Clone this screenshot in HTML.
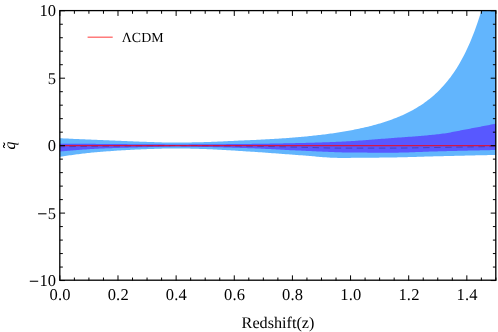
<!DOCTYPE html>
<html><head><meta charset="utf-8"><title>plot</title>
<style>
html,body{margin:0;padding:0;background:#fff;}
body{width:498px;height:332px;overflow:hidden;}
svg{display:block;will-change:transform;}
text{text-rendering:geometricPrecision;font-family:"Liberation Serif",serif;font-size:16.5px;fill:#000;}
</style></head><body>
<svg width="498" height="332" viewBox="0 0 498 332">
<rect width="498" height="332" fill="#fff"/>
<defs><clipPath id="c"><rect x="59.85" y="10.75" width="436.04999999999995" height="269.8"/></clipPath></defs>
<g clip-path="url(#c)">
<path d="M59.0,138.20 L60.5,138.27 L62.0,138.34 L63.5,138.41 L65.0,138.48 L66.5,138.54 L68.0,138.61 L69.5,138.68 L71.0,138.75 L72.5,138.82 L74.0,138.88 L75.5,138.95 L77.0,139.02 L78.5,139.08 L80.0,139.15 L81.5,139.21 L83.0,139.28 L84.5,139.34 L86.0,139.41 L87.5,139.47 L89.0,139.54 L90.5,139.60 L92.0,139.66 L93.5,139.73 L95.0,139.79 L96.5,139.85 L98.0,139.92 L99.5,139.98 L101.0,140.04 L102.5,140.10 L104.0,140.16 L105.5,140.22 L107.0,140.28 L108.5,140.34 L110.0,140.40 L111.5,140.46 L113.0,140.52 L114.5,140.58 L116.0,140.64 L117.5,140.70 L119.0,140.76 L120.5,140.82 L122.0,140.88 L123.5,140.94 L125.0,141.01 L126.5,141.07 L128.0,141.14 L129.5,141.20 L131.0,141.27 L132.5,141.33 L134.0,141.40 L135.5,141.46 L137.0,141.52 L138.5,141.58 L140.0,141.65 L141.5,141.70 L143.0,141.76 L144.5,141.82 L146.0,141.87 L147.5,141.92 L149.0,141.97 L150.5,142.02 L152.0,142.06 L153.5,142.11 L155.0,142.16 L156.5,142.21 L158.0,142.26 L159.5,142.30 L161.0,142.35 L162.5,142.39 L164.0,142.43 L165.5,142.47 L167.0,142.51 L168.5,142.54 L170.0,142.56 L171.5,142.58 L173.0,142.59 L174.5,142.60 L176.0,142.60 L177.5,142.59 L179.0,142.58 L180.5,142.57 L182.0,142.55 L183.5,142.53 L185.0,142.51 L186.5,142.49 L188.0,142.46 L189.5,142.43 L191.0,142.40 L192.5,142.37 L194.0,142.33 L195.5,142.30 L197.0,142.27 L198.5,142.23 L200.0,142.20 L201.5,142.17 L203.0,142.13 L204.5,142.09 L206.0,142.04 L207.5,141.99 L209.0,141.94 L210.5,141.89 L212.0,141.83 L213.5,141.77 L215.0,141.71 L216.5,141.65 L218.0,141.59 L219.5,141.52 L221.0,141.46 L222.5,141.39 L224.0,141.32 L225.5,141.25 L227.0,141.18 L228.5,141.11 L230.0,141.03 L231.5,140.96 L233.0,140.89 L234.5,140.81 L236.0,140.74 L237.5,140.67 L239.0,140.60 L240.5,140.53 L242.0,140.46 L243.5,140.39 L245.0,140.32 L246.5,140.26 L248.0,140.19 L249.5,140.13 L251.0,140.07 L252.5,140.01 L254.0,139.94 L255.5,139.88 L257.0,139.81 L258.5,139.74 L260.0,139.67 L261.5,139.60 L263.0,139.52 L264.5,139.45 L266.0,139.37 L267.5,139.29 L269.0,139.21 L270.5,139.12 L272.0,139.04 L273.5,138.95 L275.0,138.86 L276.5,138.77 L278.0,138.67 L279.5,138.57 L281.0,138.47 L282.5,138.37 L284.0,138.27 L285.5,138.16 L287.0,138.05 L288.5,137.94 L290.0,137.83 L291.5,137.71 L293.0,137.59 L294.5,137.47 L296.0,137.35 L297.5,137.22 L299.0,137.09 L300.5,136.95 L302.0,136.82 L303.5,136.68 L305.0,136.54 L306.5,136.39 L308.0,136.24 L309.5,136.09 L311.0,135.94 L312.5,135.78 L314.0,135.62 L315.5,135.45 L317.0,135.28 L318.5,135.11 L320.0,134.94 L321.5,134.76 L323.0,134.57 L324.5,134.38 L326.0,134.19 L327.5,134.00 L329.0,133.79 L330.5,133.59 L332.0,133.38 L333.5,133.17 L335.0,132.95 L336.5,132.72 L338.0,132.50 L339.5,132.26 L341.0,132.02 L342.5,131.78 L344.0,131.53 L345.5,131.27 L347.0,131.01 L348.5,130.74 L350.0,130.47 L351.5,130.19 L353.0,129.91 L354.5,129.61 L356.0,129.31 L357.5,129.01 L359.0,128.69 L360.5,128.37 L362.0,128.04 L363.5,127.71 L365.0,127.36 L366.5,127.01 L368.0,126.65 L369.5,126.28 L371.0,125.90 L372.5,125.51 L374.0,125.11 L375.5,124.70 L377.0,124.28 L378.5,123.85 L380.0,123.41 L381.5,122.96 L383.0,122.49 L384.5,122.02 L386.0,121.53 L387.5,121.02 L389.0,120.51 L390.5,119.98 L392.0,119.43 L393.5,118.87 L395.0,118.29 L396.5,117.70 L398.0,117.09 L399.5,116.47 L401.0,115.82 L402.5,115.16 L404.0,114.47 L405.5,113.77 L407.0,113.04 L408.5,112.30 L410.0,111.53 L411.5,110.73 L413.0,109.91 L414.5,109.07 L416.0,108.20 L417.5,107.30 L419.0,106.37 L420.5,105.41 L422.0,104.41 L423.5,103.39 L425.0,102.33 L426.5,101.23 L428.0,100.10 L429.5,98.93 L431.0,97.71 L432.5,96.45 L434.0,95.15 L435.5,93.80 L437.0,92.40 L438.5,90.95 L440.0,89.44 L441.5,87.87 L443.0,86.25 L444.5,84.56 L446.0,82.81 L447.5,80.99 L449.0,79.10 L450.5,77.13 L452.0,75.08 L453.5,72.94 L455.0,70.72 L456.5,68.40 L458.0,65.99 L459.5,63.47 L461.0,60.84 L462.5,58.10 L464.0,55.23 L465.5,52.24 L467.0,49.12 L468.5,45.85 L470.0,42.43 L471.5,38.85 L473.0,35.10 L474.5,31.18 L476.0,27.06 L477.5,22.75 L479.0,18.22 L480.5,13.47 L482.0,8.48 L483.5,3.24 L485.0,-2.27 L497.0,-2.27 L497.0,154.90 L497.0,154.90 L495.5,154.93 L494.0,154.96 L492.5,155.00 L491.0,155.03 L489.5,155.06 L488.0,155.09 L486.5,155.13 L485.0,155.16 L483.5,155.19 L482.0,155.22 L480.5,155.26 L479.0,155.29 L477.5,155.32 L476.0,155.36 L474.5,155.39 L473.0,155.42 L471.5,155.46 L470.0,155.49 L468.5,155.53 L467.0,155.56 L465.5,155.60 L464.0,155.63 L462.5,155.67 L461.0,155.70 L459.5,155.73 L458.0,155.77 L456.5,155.81 L455.0,155.84 L453.5,155.88 L452.0,155.91 L450.5,155.95 L449.0,155.98 L447.5,156.02 L446.0,156.05 L444.5,156.09 L443.0,156.13 L441.5,156.16 L440.0,156.20 L438.5,156.24 L437.0,156.28 L435.5,156.32 L434.0,156.36 L432.5,156.40 L431.0,156.44 L429.5,156.49 L428.0,156.53 L426.5,156.58 L425.0,156.62 L423.5,156.67 L422.0,156.71 L420.5,156.76 L419.0,156.80 L417.5,156.85 L416.0,156.90 L414.5,156.94 L413.0,156.98 L411.5,157.03 L410.0,157.07 L408.5,157.11 L407.0,157.15 L405.5,157.19 L404.0,157.23 L402.5,157.27 L401.0,157.30 L399.5,157.34 L398.0,157.37 L396.5,157.40 L395.0,157.42 L393.5,157.45 L392.0,157.47 L390.5,157.49 L389.0,157.51 L387.5,157.53 L386.0,157.55 L384.5,157.57 L383.0,157.58 L381.5,157.60 L380.0,157.62 L378.5,157.64 L377.0,157.65 L375.5,157.67 L374.0,157.69 L372.5,157.70 L371.0,157.72 L369.5,157.73 L368.0,157.75 L366.5,157.76 L365.0,157.78 L363.5,157.79 L362.0,157.80 L360.5,157.81 L359.0,157.83 L357.5,157.84 L356.0,157.85 L354.5,157.86 L353.0,157.86 L351.5,157.87 L350.0,157.88 L348.5,157.88 L347.0,157.89 L345.5,157.89 L344.0,157.90 L342.5,157.90 L341.0,157.90 L339.5,157.90 L338.0,157.89 L336.5,157.86 L335.0,157.82 L333.5,157.77 L332.0,157.71 L330.5,157.64 L329.0,157.55 L327.5,157.46 L326.0,157.36 L324.5,157.25 L323.0,157.14 L321.5,157.02 L320.0,156.90 L318.5,156.77 L317.0,156.64 L315.5,156.51 L314.0,156.37 L312.5,156.24 L311.0,156.10 L309.5,155.97 L308.0,155.84 L306.5,155.71 L305.0,155.58 L303.5,155.46 L302.0,155.35 L300.5,155.24 L299.0,155.13 L297.5,155.02 L296.0,154.92 L294.5,154.81 L293.0,154.70 L291.5,154.59 L290.0,154.48 L288.5,154.37 L287.0,154.26 L285.5,154.14 L284.0,154.03 L282.5,153.92 L281.0,153.80 L279.5,153.69 L278.0,153.58 L276.5,153.46 L275.0,153.35 L273.5,153.24 L272.0,153.13 L270.5,153.01 L269.0,152.90 L267.5,152.79 L266.0,152.68 L264.5,152.58 L263.0,152.47 L261.5,152.36 L260.0,152.26 L258.5,152.15 L257.0,152.05 L255.5,151.95 L254.0,151.85 L252.5,151.76 L251.0,151.66 L249.5,151.57 L248.0,151.48 L246.5,151.38 L245.0,151.29 L243.5,151.19 L242.0,151.10 L240.5,151.00 L239.0,150.90 L237.5,150.81 L236.0,150.71 L234.5,150.62 L233.0,150.52 L231.5,150.43 L230.0,150.34 L228.5,150.25 L227.0,150.16 L225.5,150.07 L224.0,149.98 L222.5,149.89 L221.0,149.81 L219.5,149.73 L218.0,149.65 L216.5,149.57 L215.0,149.49 L213.5,149.42 L212.0,149.35 L210.5,149.28 L209.0,149.22 L207.5,149.16 L206.0,149.10 L204.5,149.04 L203.0,148.99 L201.5,148.94 L200.0,148.90 L198.5,148.86 L197.0,148.82 L195.5,148.77 L194.0,148.73 L192.5,148.69 L191.0,148.65 L189.5,148.61 L188.0,148.57 L186.5,148.54 L185.0,148.51 L183.5,148.48 L182.0,148.46 L180.5,148.44 L179.0,148.42 L177.5,148.41 L176.0,148.40 L174.5,148.40 L173.0,148.41 L171.5,148.42 L170.0,148.44 L168.5,148.46 L167.0,148.49 L165.5,148.52 L164.0,148.56 L162.5,148.60 L161.0,148.64 L159.5,148.69 L158.0,148.73 L156.5,148.78 L155.0,148.83 L153.5,148.88 L152.0,148.93 L150.5,148.98 L149.0,149.03 L147.5,149.08 L146.0,149.14 L144.5,149.20 L143.0,149.26 L141.5,149.32 L140.0,149.38 L138.5,149.45 L137.0,149.52 L135.5,149.59 L134.0,149.66 L132.5,149.74 L131.0,149.82 L129.5,149.90 L128.0,149.98 L126.5,150.07 L125.0,150.16 L123.5,150.25 L122.0,150.34 L120.5,150.43 L119.0,150.53 L117.5,150.62 L116.0,150.72 L114.5,150.83 L113.0,150.93 L111.5,151.03 L110.0,151.14 L108.5,151.25 L107.0,151.36 L105.5,151.47 L104.0,151.59 L102.5,151.70 L101.0,151.82 L99.5,151.94 L98.0,152.06 L96.5,152.19 L95.0,152.33 L93.5,152.47 L92.0,152.62 L90.5,152.77 L89.0,152.93 L87.5,153.09 L86.0,153.26 L84.5,153.43 L83.0,153.61 L81.5,153.79 L80.0,153.97 L78.5,154.16 L77.0,154.35 L75.5,154.55 L74.0,154.75 L72.5,154.95 L71.0,155.16 L69.5,155.37 L68.0,155.58 L66.5,155.79 L65.0,156.01 L63.5,156.23 L62.0,156.45 L60.5,156.67 L59.0,156.90Z" fill="#62b5fd"/>
<path d="M59.0,143.70 L60.5,143.71 L62.0,143.71 L63.5,143.72 L65.0,143.72 L66.5,143.73 L68.0,143.73 L69.5,143.74 L71.0,143.75 L72.5,143.75 L74.0,143.76 L75.5,143.77 L77.0,143.77 L78.5,143.78 L80.0,143.79 L81.5,143.80 L83.0,143.80 L84.5,143.81 L86.0,143.82 L87.5,143.83 L89.0,143.84 L90.5,143.84 L92.0,143.85 L93.5,143.86 L95.0,143.87 L96.5,143.88 L98.0,143.89 L99.5,143.90 L101.0,143.91 L102.5,143.92 L104.0,143.93 L105.5,143.94 L107.0,143.95 L108.5,143.96 L110.0,143.97 L111.5,143.98 L113.0,144.00 L114.5,144.01 L116.0,144.02 L117.5,144.04 L119.0,144.05 L120.5,144.06 L122.0,144.08 L123.5,144.09 L125.0,144.11 L126.5,144.12 L128.0,144.13 L129.5,144.15 L131.0,144.16 L132.5,144.17 L134.0,144.19 L135.5,144.20 L137.0,144.21 L138.5,144.22 L140.0,144.24 L141.5,144.25 L143.0,144.26 L144.5,144.27 L146.0,144.28 L147.5,144.29 L149.0,144.29 L150.5,144.30 L152.0,144.31 L153.5,144.32 L155.0,144.33 L156.5,144.34 L158.0,144.34 L159.5,144.35 L161.0,144.36 L162.5,144.37 L164.0,144.37 L165.5,144.38 L167.0,144.38 L168.5,144.39 L170.0,144.39 L171.5,144.40 L173.0,144.40 L174.5,144.40 L176.0,144.40 L177.5,144.40 L179.0,144.40 L180.5,144.40 L182.0,144.39 L183.5,144.39 L185.0,144.39 L186.5,144.38 L188.0,144.38 L189.5,144.37 L191.0,144.37 L192.5,144.36 L194.0,144.36 L195.5,144.35 L197.0,144.34 L198.5,144.33 L200.0,144.33 L201.5,144.32 L203.0,144.31 L204.5,144.30 L206.0,144.29 L207.5,144.28 L209.0,144.27 L210.5,144.26 L212.0,144.25 L213.5,144.24 L215.0,144.22 L216.5,144.21 L218.0,144.20 L219.5,144.19 L221.0,144.18 L222.5,144.16 L224.0,144.15 L225.5,144.14 L227.0,144.12 L228.5,144.11 L230.0,144.10 L231.5,144.08 L233.0,144.07 L234.5,144.05 L236.0,144.04 L237.5,144.02 L239.0,144.01 L240.5,143.99 L242.0,143.98 L243.5,143.97 L245.0,143.95 L246.5,143.94 L248.0,143.92 L249.5,143.91 L251.0,143.89 L252.5,143.87 L254.0,143.86 L255.5,143.84 L257.0,143.82 L258.5,143.80 L260.0,143.78 L261.5,143.76 L263.0,143.74 L264.5,143.71 L266.0,143.69 L267.5,143.67 L269.0,143.64 L270.5,143.61 L272.0,143.59 L273.5,143.56 L275.0,143.53 L276.5,143.51 L278.0,143.48 L279.5,143.45 L281.0,143.42 L282.5,143.39 L284.0,143.36 L285.5,143.32 L287.0,143.29 L288.5,143.26 L290.0,143.23 L291.5,143.19 L293.0,143.16 L294.5,143.13 L296.0,143.09 L297.5,143.06 L299.0,143.02 L300.5,142.99 L302.0,142.95 L303.5,142.92 L305.0,142.88 L306.5,142.84 L308.0,142.80 L309.5,142.76 L311.0,142.72 L312.5,142.68 L314.0,142.63 L315.5,142.59 L317.0,142.55 L318.5,142.50 L320.0,142.45 L321.5,142.40 L323.0,142.35 L324.5,142.30 L326.0,142.25 L327.5,142.20 L329.0,142.14 L330.5,142.09 L332.0,142.03 L333.5,141.97 L335.0,141.91 L336.5,141.85 L338.0,141.79 L339.5,141.72 L341.0,141.66 L342.5,141.58 L344.0,141.51 L345.5,141.43 L347.0,141.35 L348.5,141.27 L350.0,141.18 L351.5,141.09 L353.0,140.99 L354.5,140.90 L356.0,140.80 L357.5,140.69 L359.0,140.59 L360.5,140.48 L362.0,140.38 L363.5,140.27 L365.0,140.15 L366.5,140.04 L368.0,139.93 L369.5,139.81 L371.0,139.69 L372.5,139.58 L374.0,139.46 L375.5,139.34 L377.0,139.22 L378.5,139.10 L380.0,138.98 L381.5,138.86 L383.0,138.75 L384.5,138.63 L386.0,138.51 L387.5,138.39 L389.0,138.28 L390.5,138.16 L392.0,138.05 L393.5,137.94 L395.0,137.83 L396.5,137.72 L398.0,137.61 L399.5,137.50 L401.0,137.39 L402.5,137.28 L404.0,137.18 L405.5,137.07 L407.0,136.96 L408.5,136.85 L410.0,136.74 L411.5,136.63 L413.0,136.52 L414.5,136.40 L416.0,136.28 L417.5,136.17 L419.0,136.05 L420.5,135.92 L422.0,135.80 L423.5,135.67 L425.0,135.54 L426.5,135.40 L428.0,135.26 L429.5,135.12 L431.0,134.97 L432.5,134.82 L434.0,134.67 L435.5,134.51 L437.0,134.34 L438.5,134.17 L440.0,134.00 L441.5,133.81 L443.0,133.61 L444.5,133.39 L446.0,133.16 L447.5,132.91 L449.0,132.65 L450.5,132.38 L452.0,132.11 L453.5,131.83 L455.0,131.54 L456.5,131.24 L458.0,130.95 L459.5,130.65 L461.0,130.35 L462.5,130.06 L464.0,129.77 L465.5,129.48 L467.0,129.20 L468.5,128.92 L470.0,128.64 L471.5,128.36 L473.0,128.08 L474.5,127.80 L476.0,127.51 L477.5,127.23 L479.0,126.94 L480.5,126.65 L482.0,126.36 L483.5,126.07 L485.0,125.78 L486.5,125.49 L488.0,125.19 L489.5,124.90 L491.0,124.60 L492.5,124.30 L494.0,124.00 L495.5,123.70 L497.0,123.40 L497.0,123.40 L497.0,150.00 L497.0,150.00 L495.5,150.03 L494.0,150.06 L492.5,150.09 L491.0,150.12 L489.5,150.15 L488.0,150.18 L486.5,150.22 L485.0,150.25 L483.5,150.28 L482.0,150.31 L480.5,150.35 L479.0,150.38 L477.5,150.41 L476.0,150.44 L474.5,150.48 L473.0,150.51 L471.5,150.54 L470.0,150.58 L468.5,150.61 L467.0,150.65 L465.5,150.68 L464.0,150.72 L462.5,150.75 L461.0,150.79 L459.5,150.82 L458.0,150.86 L456.5,150.89 L455.0,150.93 L453.5,150.97 L452.0,151.00 L450.5,151.04 L449.0,151.08 L447.5,151.11 L446.0,151.15 L444.5,151.19 L443.0,151.22 L441.5,151.26 L440.0,151.30 L438.5,151.34 L437.0,151.38 L435.5,151.43 L434.0,151.47 L432.5,151.52 L431.0,151.57 L429.5,151.62 L428.0,151.68 L426.5,151.73 L425.0,151.79 L423.5,151.84 L422.0,151.90 L420.5,151.96 L419.0,152.01 L417.5,152.07 L416.0,152.12 L414.5,152.18 L413.0,152.23 L411.5,152.28 L410.0,152.33 L408.5,152.38 L407.0,152.42 L405.5,152.46 L404.0,152.50 L402.5,152.54 L401.0,152.57 L399.5,152.60 L398.0,152.63 L396.5,152.65 L395.0,152.67 L393.5,152.69 L392.0,152.70 L390.5,152.70 L389.0,152.70 L387.5,152.70 L386.0,152.70 L384.5,152.70 L383.0,152.69 L381.5,152.69 L380.0,152.68 L378.5,152.68 L377.0,152.67 L375.5,152.67 L374.0,152.66 L372.5,152.66 L371.0,152.65 L369.5,152.64 L368.0,152.63 L366.5,152.62 L365.0,152.61 L363.5,152.60 L362.0,152.59 L360.5,152.58 L359.0,152.57 L357.5,152.56 L356.0,152.55 L354.5,152.54 L353.0,152.53 L351.5,152.51 L350.0,152.50 L348.5,152.48 L347.0,152.46 L345.5,152.44 L344.0,152.41 L342.5,152.38 L341.0,152.34 L339.5,152.30 L338.0,152.26 L336.5,152.21 L335.0,152.16 L333.5,152.11 L332.0,152.05 L330.5,151.99 L329.0,151.93 L327.5,151.87 L326.0,151.81 L324.5,151.74 L323.0,151.67 L321.5,151.60 L320.0,151.53 L318.5,151.46 L317.0,151.39 L315.5,151.32 L314.0,151.25 L312.5,151.17 L311.0,151.10 L309.5,151.03 L308.0,150.96 L306.5,150.89 L305.0,150.82 L303.5,150.75 L302.0,150.69 L300.5,150.62 L299.0,150.56 L297.5,150.49 L296.0,150.42 L294.5,150.35 L293.0,150.28 L291.5,150.21 L290.0,150.13 L288.5,150.06 L287.0,149.98 L285.5,149.90 L284.0,149.82 L282.5,149.74 L281.0,149.66 L279.5,149.59 L278.0,149.51 L276.5,149.43 L275.0,149.35 L273.5,149.27 L272.0,149.19 L270.5,149.11 L269.0,149.03 L267.5,148.96 L266.0,148.88 L264.5,148.81 L263.0,148.74 L261.5,148.67 L260.0,148.60 L258.5,148.53 L257.0,148.47 L255.5,148.40 L254.0,148.35 L252.5,148.29 L251.0,148.23 L249.5,148.18 L248.0,148.13 L246.5,148.08 L245.0,148.03 L243.5,147.99 L242.0,147.94 L240.5,147.89 L239.0,147.84 L237.5,147.80 L236.0,147.75 L234.5,147.71 L233.0,147.66 L231.5,147.62 L230.0,147.58 L228.5,147.53 L227.0,147.49 L225.5,147.45 L224.0,147.41 L222.5,147.37 L221.0,147.33 L219.5,147.30 L218.0,147.26 L216.5,147.23 L215.0,147.19 L213.5,147.16 L212.0,147.12 L210.5,147.09 L209.0,147.06 L207.5,147.03 L206.0,147.00 L204.5,146.98 L203.0,146.95 L201.5,146.92 L200.0,146.90 L198.5,146.88 L197.0,146.85 L195.5,146.83 L194.0,146.80 L192.5,146.78 L191.0,146.75 L189.5,146.73 L188.0,146.71 L186.5,146.69 L185.0,146.67 L183.5,146.65 L182.0,146.64 L180.5,146.62 L179.0,146.61 L177.5,146.60 L176.0,146.60 L174.5,146.60 L173.0,146.61 L171.5,146.62 L170.0,146.63 L168.5,146.65 L167.0,146.68 L165.5,146.71 L164.0,146.74 L162.5,146.78 L161.0,146.81 L159.5,146.85 L158.0,146.89 L156.5,146.93 L155.0,146.97 L153.5,147.01 L152.0,147.05 L150.5,147.09 L149.0,147.12 L147.5,147.16 L146.0,147.19 L144.5,147.23 L143.0,147.27 L141.5,147.30 L140.0,147.34 L138.5,147.37 L137.0,147.41 L135.5,147.45 L134.0,147.49 L132.5,147.52 L131.0,147.56 L129.5,147.60 L128.0,147.64 L126.5,147.68 L125.0,147.73 L123.5,147.77 L122.0,147.81 L120.5,147.86 L119.0,147.90 L117.5,147.95 L116.0,148.00 L114.5,148.05 L113.0,148.10 L111.5,148.15 L110.0,148.21 L108.5,148.26 L107.0,148.32 L105.5,148.37 L104.0,148.43 L102.5,148.49 L101.0,148.56 L99.5,148.62 L98.0,148.69 L96.5,148.76 L95.0,148.84 L93.5,148.92 L92.0,149.01 L90.5,149.09 L89.0,149.19 L87.5,149.28 L86.0,149.38 L84.5,149.48 L83.0,149.59 L81.5,149.70 L80.0,149.81 L78.5,149.92 L77.0,150.04 L75.5,150.16 L74.0,150.28 L72.5,150.40 L71.0,150.53 L69.5,150.66 L68.0,150.79 L66.5,150.92 L65.0,151.05 L63.5,151.19 L62.0,151.32 L60.5,151.46 L59.0,151.60Z" fill="#5858ff"/>
<path d="M59.0,146.80 L61.0,146.76 L63.0,146.73 L65.0,146.70 L67.0,146.66 L69.0,146.63 L71.0,146.60 L73.0,146.56 L75.0,146.53 L77.0,146.50 L79.0,146.47 L81.0,146.44 L83.0,146.41 L85.0,146.38 L87.0,146.36 L89.0,146.33 L91.0,146.30 L93.0,146.28 L95.0,146.26 L97.0,146.23 L99.0,146.21 L101.0,146.19 L103.0,146.17 L105.0,146.15 L107.0,146.13 L109.0,146.11 L111.0,146.10 L113.0,146.08 L115.0,146.06 L117.0,146.05 L119.0,146.03 L121.0,146.01 L123.0,146.00 L125.0,145.98 L127.0,145.97 L129.0,145.96 L131.0,145.94 L133.0,145.93 L135.0,145.91 L137.0,145.90 L139.0,145.88 L141.0,145.87 L143.0,145.85 L145.0,145.84 L147.0,145.82 L149.0,145.81 L151.0,145.79 L153.0,145.77 L155.0,145.75 L157.0,145.73 L159.0,145.71 L161.0,145.69 L163.0,145.67 L165.0,145.65 L167.0,145.63 L169.0,145.62 L171.0,145.61 L173.0,145.60 L175.0,145.60 L177.0,145.60 L179.0,145.60 L181.0,145.61 L183.0,145.61 L185.0,145.62 L187.0,145.62 L189.0,145.63 L191.0,145.64 L193.0,145.65 L195.0,145.66 L197.0,145.67 L199.0,145.68 L201.0,145.70 L203.0,145.71 L205.0,145.73 L207.0,145.74 L209.0,145.76 L211.0,145.78 L213.0,145.79 L215.0,145.81 L217.0,145.83 L219.0,145.85 L221.0,145.87 L223.0,145.89 L225.0,145.91 L227.0,145.94 L229.0,145.96 L231.0,145.98 L233.0,146.00 L235.0,146.02 L237.0,146.05 L239.0,146.07 L241.0,146.09 L243.0,146.12 L245.0,146.14 L247.0,146.16 L249.0,146.19 L251.0,146.21 L253.0,146.24 L255.0,146.27 L257.0,146.30 L259.0,146.33 L261.0,146.36 L263.0,146.40 L265.0,146.44 L267.0,146.47 L269.0,146.51 L271.0,146.56 L273.0,146.60 L275.0,146.64 L277.0,146.68 L279.0,146.73 L281.0,146.77 L283.0,146.82 L285.0,146.87 L287.0,146.91 L289.0,146.96 L291.0,147.00 L293.0,147.05 L295.0,147.09 L297.0,147.14 L299.0,147.18 L301.0,147.22 L303.0,147.27 L305.0,147.32 L307.0,147.37 L309.0,147.43 L311.0,147.49 L313.0,147.55 L315.0,147.61 L317.0,147.67 L319.0,147.73 L321.0,147.78 L323.0,147.84 L325.0,147.89 L327.0,147.94 L329.0,147.98 L331.0,148.02 L333.0,148.05 L335.0,148.07 L337.0,148.09 L339.0,148.10 L341.0,148.10 L343.0,148.10 L345.0,148.10 L347.0,148.10 L349.0,148.10 L351.0,148.10 L353.0,148.10 L355.0,148.10 L357.0,148.10 L359.0,148.10 L361.0,148.10 L363.0,148.10 L365.0,148.10 L367.0,148.10 L369.0,148.10 L371.0,148.10 L373.0,148.10 L375.0,148.10 L377.0,148.10 L379.0,148.10 L381.0,148.10 L383.0,148.10 L385.0,148.10 L387.0,148.10 L389.0,148.10 L391.0,148.10 L393.0,148.10 L395.0,148.09 L397.0,148.08 L399.0,148.06 L401.0,148.04 L403.0,148.02 L405.0,148.00 L407.0,147.97 L409.0,147.94 L411.0,147.91 L413.0,147.88 L415.0,147.84 L417.0,147.81 L419.0,147.77 L421.0,147.73 L423.0,147.70 L425.0,147.66 L427.0,147.62 L429.0,147.59 L431.0,147.55 L433.0,147.51 L435.0,147.48 L437.0,147.45 L439.0,147.42 L441.0,147.39 L443.0,147.36 L445.0,147.33 L447.0,147.30 L449.0,147.27 L451.0,147.23 L453.0,147.20 L455.0,147.17 L457.0,147.14 L459.0,147.11 L461.0,147.08 L463.0,147.05 L465.0,147.02 L467.0,146.99 L469.0,146.96 L471.0,146.92 L473.0,146.89 L475.0,146.86 L477.0,146.83 L479.0,146.80 L481.0,146.76 L483.0,146.73 L485.0,146.70 L487.0,146.67 L489.0,146.63 L491.0,146.60 L493.0,146.57 L495.0,146.53 L497.0,146.50 L497.0,146.50" fill="none" stroke="#4040c8" stroke-width="1" stroke-dasharray="6.5 4.555" stroke-dashoffset="0.7"/>
<path d="M59.85,145.65 H495.9" stroke="#ff0000" stroke-opacity="0.73" stroke-width="1.25" fill="none"/>
</g>
<path d="M59.85,280.55 v-5.2 M59.85,10.75 v5.2 M74.39,280.55 v-3.0 M74.39,10.75 v3.0 M88.92,280.55 v-3.0 M88.92,10.75 v3.0 M103.46,280.55 v-3.0 M103.46,10.75 v3.0 M117.99,280.55 v-5.2 M117.99,10.75 v5.2 M132.53,280.55 v-3.0 M132.53,10.75 v3.0 M147.06,280.55 v-3.0 M147.06,10.75 v3.0 M161.59,280.55 v-3.0 M161.59,10.75 v3.0 M176.13,280.55 v-5.2 M176.13,10.75 v5.2 M190.66,280.55 v-3.0 M190.66,10.75 v3.0 M205.20,280.55 v-3.0 M205.20,10.75 v3.0 M219.74,280.55 v-3.0 M219.74,10.75 v3.0 M234.27,280.55 v-5.2 M234.27,10.75 v5.2 M248.81,280.55 v-3.0 M248.81,10.75 v3.0 M263.34,280.55 v-3.0 M263.34,10.75 v3.0 M277.88,280.55 v-3.0 M277.88,10.75 v3.0 M292.41,280.55 v-5.2 M292.41,10.75 v5.2 M306.95,280.55 v-3.0 M306.95,10.75 v3.0 M321.48,280.55 v-3.0 M321.48,10.75 v3.0 M336.02,280.55 v-3.0 M336.02,10.75 v3.0 M350.55,280.55 v-5.2 M350.55,10.75 v5.2 M365.09,280.55 v-3.0 M365.09,10.75 v3.0 M379.62,280.55 v-3.0 M379.62,10.75 v3.0 M394.16,280.55 v-3.0 M394.16,10.75 v3.0 M408.69,280.55 v-5.2 M408.69,10.75 v5.2 M423.23,280.55 v-3.0 M423.23,10.75 v3.0 M437.76,280.55 v-3.0 M437.76,10.75 v3.0 M452.30,280.55 v-3.0 M452.30,10.75 v3.0 M466.83,280.55 v-5.2 M466.83,10.75 v5.2 M481.37,280.55 v-3.0 M481.37,10.75 v3.0 M495.90,280.55 v-3.0 M495.90,10.75 v3.0 M59.85,280.55 h5.2 M495.9,280.55 h-5.2 M59.85,267.06 h3.0 M495.9,267.06 h-3.0 M59.85,253.57 h3.0 M495.9,253.57 h-3.0 M59.85,240.08 h3.0 M495.9,240.08 h-3.0 M59.85,226.59 h3.0 M495.9,226.59 h-3.0 M59.85,213.10 h5.2 M495.9,213.10 h-5.2 M59.85,199.61 h3.0 M495.9,199.61 h-3.0 M59.85,186.12 h3.0 M495.9,186.12 h-3.0 M59.85,172.63 h3.0 M495.9,172.63 h-3.0 M59.85,159.14 h3.0 M495.9,159.14 h-3.0 M59.85,145.65 h5.2 M495.9,145.65 h-5.2 M59.85,132.16 h3.0 M495.9,132.16 h-3.0 M59.85,118.67 h3.0 M495.9,118.67 h-3.0 M59.85,105.18 h3.0 M495.9,105.18 h-3.0 M59.85,91.69 h3.0 M495.9,91.69 h-3.0 M59.85,78.20 h5.2 M495.9,78.20 h-5.2 M59.85,64.71 h3.0 M495.9,64.71 h-3.0 M59.85,51.22 h3.0 M495.9,51.22 h-3.0 M59.85,37.73 h3.0 M495.9,37.73 h-3.0 M59.85,24.24 h3.0 M495.9,24.24 h-3.0 M59.85,10.75 h5.2 M495.9,10.75 h-5.2" stroke="#000" stroke-width="1" fill="none"/>
<rect x="59.8" y="10.6" width="436.0" height="269.59999999999997" fill="none" stroke="#000" stroke-width="1.3"/>
<path d="M87.6,37.2 H112.7" stroke="#ff6060" stroke-width="1.25"/>
<text x="121.8" y="41.7" style="font-size:13.9px">ΛCDM</text>
<text x="59.9" y="299.5" dx="0.3" text-anchor="middle" style="letter-spacing:0.2px">0.0</text>
<text x="118.0" y="299.5" dx="0.3" text-anchor="middle" style="letter-spacing:0.2px">0.2</text>
<text x="176.1" y="299.5" dx="0.3" text-anchor="middle" style="letter-spacing:0.2px">0.4</text>
<text x="234.3" y="299.5" dx="0.3" text-anchor="middle" style="letter-spacing:0.2px">0.6</text>
<text x="292.4" y="299.5" dx="0.3" text-anchor="middle" style="letter-spacing:0.2px">0.8</text>
<text x="350.6" y="299.5" dx="0.3" text-anchor="middle" style="letter-spacing:0.2px">1.0</text>
<text x="408.7" y="299.5" dx="0.3" text-anchor="middle" style="letter-spacing:0.2px">1.2</text>
<text x="466.8" y="299.5" dx="0.3" text-anchor="middle" style="letter-spacing:0.2px">1.4</text>
<text x="56" y="286.00" text-anchor="end">10</text>
<path d="M29.8,281.25 H38.2" stroke="#000" stroke-width="1.05"/>
<text x="56" y="218.55" text-anchor="end">5</text>
<path d="M38.1,213.80 H46.5" stroke="#000" stroke-width="1.05"/>
<text x="56" y="151.10" text-anchor="end">0</text>
<text x="56" y="83.65" text-anchor="end">5</text>
<text x="56" y="16.20" text-anchor="end">10</text>

<text x="278" y="328.2" text-anchor="middle" style="font-size:16.2px">Redshift(z)</text>
<text transform="translate(14.6,145.6) rotate(-90) scale(1.0,1.0)" text-anchor="middle" style="font-style:italic;font-size:16px">q</text>
<path d="M4.4,147.6 C3.1,147.1 3.3,145.8 4.05,145.25 C4.8,144.7 5.0,143.4 3.8,142.9" fill="none" stroke="#000" stroke-width="1.05" stroke-linecap="round"/>
</svg>
</body></html>
